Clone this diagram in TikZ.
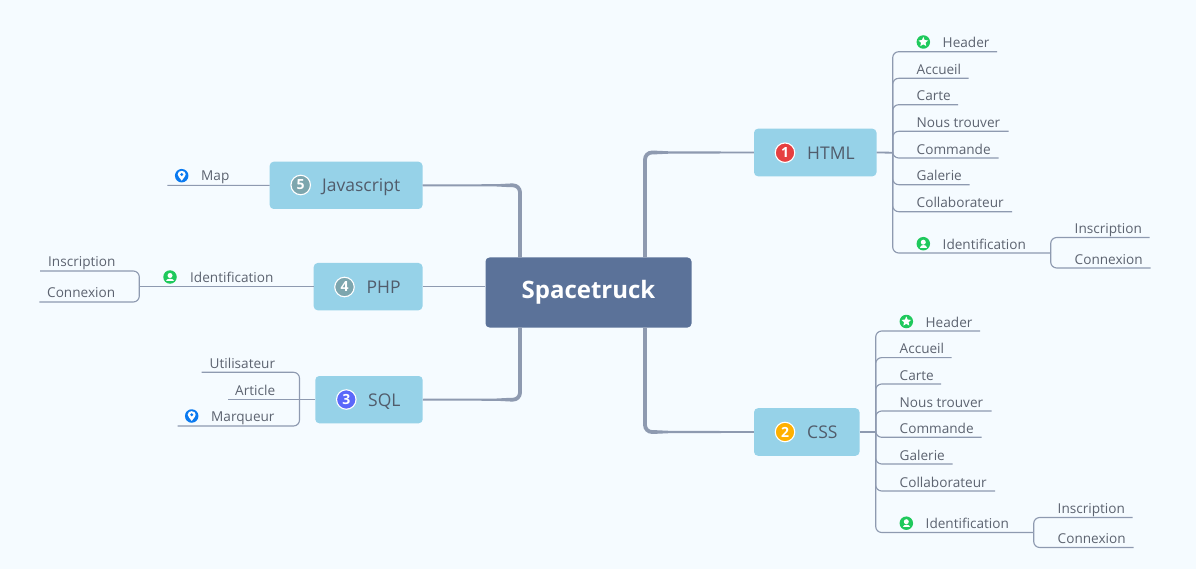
\documentclass[tikz,border=0pt]{standalone}
\usepackage{fontspec}
\setmainfont{Open Sans}
\usetikzlibrary{shapes.geometric,calc}
\definecolor{bgc}{HTML}{F5FBFF}
\definecolor{rootc}{HTML}{5B7299}
\definecolor{topc}{HTML}{96D2E8}
\definecolor{linec}{HTML}{8E9AB0}
\definecolor{txtc}{HTML}{5C6370}
\definecolor{topt}{HTML}{515C6B}
\definecolor{greenc}{HTML}{1FC95C}
\definecolor{bluec}{HTML}{0A7AF0}
\definecolor{redc}{HTML}{E63F40}
\definecolor{orangec}{HTML}{FFB000}
\definecolor{violetc}{HTML}{5B68FA}
\definecolor{tealc}{HTML}{7DA6AE}
\tikzset{
  rootbox/.style={fill=rootc,rounded corners=4pt,inner sep=0pt,anchor=center},
  topbox/.style={fill=topc,rounded corners=4pt,inner sep=0pt,anchor=center},
  toptext/.style={anchor=base west,inner sep=0pt,font=\fontsize{17.5}{20}\selectfont,text=topt},
  leaftext/.style={anchor=base west,inner sep=0pt,font=\fontsize{13.6}{16}\selectfont,text=txtc},
  trunk/.style={draw=linec,line width=3.8pt,rounded corners=7pt},
  twig/.style={draw=linec,line width=1.15pt,rounded corners=6pt},
  stem/.style={draw=linec,line width=1.8pt},
  numdot/.style={circle,draw=white,line width=1.1pt,minimum size=19.5pt,inner sep=0pt,text=white,font=\fontsize{14}{14}\selectfont\bfseries},
  icondot/.style={circle,minimum size=13.5pt,inner sep=0pt},
}
% box: name, x1, y1, x2, y2, style
\newcommand{\tbox}[6]{\node[#6,minimum width=#4pt-#2pt,minimum height=#5pt-#3pt] (#1) at ({(#2+#4)/2},{(#3+#5)/2}) {};}
% leaf: name, text x, line y, line end x, text, fork coordinate
\newcommand{\leaf}[6]{%
  \coordinate (#1e) at (#4,#3);
  \node[leaftext] (#1) at (#2,#3-3.9) {#5};
  \draw[twig] (#6) |- (#1e);}
% tapered branch: from knee coordinate to the side anchor of a box
\newcommand{\taper}[2]{%
  \fill[linec] ($(#1)+(0,-1.9)$) -- ($(#1)!0.16!(#2)+(0,-1.15)$) -- ($(#2)+(0,-0.9)$)
    -- ($(#2)+(0,0.9)$) -- ($(#1)!0.16!(#2)+(0,1.15)$) -- ($(#1)+(0,1.9)$) -- cycle;}
\newcommand{\staricon}[3]{%
  \node[icondot,fill=greenc] (#1) at (#2,#3) {};
  \node[star,star points=5,star point ratio=2.1,fill=white,minimum size=10pt,inner sep=0pt] (#1s) at (#2,#3) {};}
\newcommand{\personicon}[3]{%
  \node[icondot,fill=greenc] (#1) at (#2,#3) {};
  \node[circle,fill=white,minimum size=5pt,inner sep=0pt] (#1h) at (#2,#3-1.5) {};
  \fill[white] (#2-3.7,#3+4) .. controls (#2-3.7,#3+0.6) and (#2+3.7,#3+0.6) .. (#2+3.7,#3+4) -- cycle;}
\newcommand{\pinicon}[3]{%
  \node[icondot,fill=bluec] (#1) at (#2,#3) {};
  \fill[white] (#2,#3+5) .. controls (#2-2,#3+2) and (#2-4,#3+0.5) .. (#2-4,#3-1.3)
     .. controls (#2-4,#3-6) and (#2+4,#3-6) .. (#2+4,#3-1.3)
     .. controls (#2+4,#3+0.5) and (#2+2,#3+2) .. (#2,#3+5) -- cycle;
  \node[circle,fill=bluec,minimum size=3.2pt,inner sep=0pt] (#1h) at (#2,#3-1.2) {};}
\begin{document}
\begin{tikzpicture}[x=1pt,y=-1pt]
\useasboundingbox[fill=bgc] (0,0) rectangle (1196,569);

% boxes
\tbox{root}{485.5}{257.5}{691.5}{327.5}{rootbox}
\tbox{html}{754}{128.7}{876.5}{176.3}{topbox}
\tbox{css}{754}{408.2}{859.5}{455.8}{topbox}
\tbox{sql}{315.3}{376}{422.7}{423.3}{topbox}
\tbox{php}{313.7}{263}{422.5}{310.3}{topbox}
\tbox{js}{269.7}{161.7}{422.5}{209}{topbox}

% main connectors
\coordinate (rh) at (645,257.5);
\coordinate (rc) at (645,327.5);
\coordinate (rj) at (520,257.5);
\coordinate (rs) at (520,327.5);
\coordinate (hk) at (654,152.5);
\coordinate (ck) at (654,432);
\coordinate (jk) at (511,185.35);
\coordinate (sk) at (511,399.65);
\taper{hk}{html.west}
\taper{ck}{css.west}
\taper{jk}{js.east}
\taper{sk}{sql.east}
\draw[trunk] (rh) |- (hk);
\draw[trunk] (rc) |- (ck);
\draw[trunk] (rj) |- (jk);
\draw[trunk] (rs) |- (sk);
\draw[draw=linec,line width=1.4pt] (root.west |- php.east) -- (php.east);

% HTML
\coordinate (hf) at (892.7,152.7);
\draw[stem] (html.east) -- (hf);
\leaf{h1}{942.5}{51.7}{997}{Header}{hf}
\leaf{h2}{916.5}{78.3}{968.7}{Accueil}{hf}
\leaf{h3}{916.5}{104.7}{958}{Carte}{hf}
\leaf{h4}{916.5}{131.3}{1008.7}{Nous trouver}{hf}
\leaf{h5}{916.5}{158}{998.7}{Commande}{hf}
\leaf{h6}{916.5}{184.7}{969.7}{Galerie}{hf}
\leaf{h7}{916.5}{211.7}{1012}{Collaborateur}{hf}
\coordinate (hg) at (1050.7,253);
\leaf{h8}{942.5}{253}{1050.7}{Identification}{hf}
\leaf{h9}{1074.5}{237.5}{1149.7}{Inscription}{hg}
\leaf{h10}{1074.5}{268}{1150.7}{Connexion}{hg}
\staricon{hi1}{923.3}{42}
\personicon{hi8}{923.3}{243.7}

% CSS
\coordinate (cf) at (875.7,432);
\draw[stem] (css.east) -- (cf);
\leaf{c1}{925.5}{331}{980}{Header}{cf}
\leaf{c2}{899.5}{357.6}{951.7}{Accueil}{cf}
\leaf{c3}{899.5}{384}{941}{Carte}{cf}
\leaf{c4}{899.5}{411}{991.7}{Nous trouver}{cf}
\leaf{c5}{899.5}{437.3}{981.7}{Commande}{cf}
\leaf{c6}{899.5}{464}{952.7}{Galerie}{cf}
\leaf{c7}{899.5}{491}{995}{Collaborateur}{cf}
\coordinate (cg) at (1033.7,532.5);
\leaf{c8}{925.5}{532.5}{1033.7}{Identification}{cf}
\leaf{c9}{1057.5}{517.5}{1132.7}{Inscription}{cg}
\leaf{c10}{1057.5}{547.5}{1133.7}{Connexion}{cg}
\staricon{ci1}{906.3}{321.5}
\personicon{ci8}{906.3}{523.2}

% Javascript
\coordinate (j1e) at (167.3,185.35);
\node[leaftext] (j1) at (201,181) {Map};
\draw[twig] (js.west) -- (j1e);
\pinicon{ji1}{181.7}{175.7}

% PHP
\coordinate (pf) at (139.3,286.65);
\draw[twig] (php.west) -- (pf);
\node[leaftext] (p1) at (190,282.3) {Identification};
\coordinate (p2e) at (40,271);
\coordinate (p3e) at (39.3,302);
\node[leaftext] (p2) at (48,267) {Inscription};
\node[leaftext] (p3) at (47,297.8) {Connexion};
\draw[twig] (pf) |- (p2e);
\draw[twig] (pf) |- (p3e);
\personicon{pi1}{170}{277}

% SQL
\coordinate (sf) at (299.5,399.65);
\coordinate (s2e) at (227.5,399.65);
\draw[twig] (sql.west) -- (s2e);
\node[leaftext] (s2) at (235,395.5) {Article};
\leaf{s1}{209.5}{372.3}{201.7}{Utilisateur}{sf}
\coordinate (s3e) at (177.5,426);
\node[leaftext] (s3) at (211,421.3) {Marqueur};
\draw[twig] (sf) |- (s3e);
\pinicon{si3}{191.7}{416}

% topic labels
\node[anchor=center,inner sep=0pt,text=white,font=\fontsize{24}{28}\selectfont\bfseries] (rootl) at (588.5,292.5) {Spacetruck};
\node[numdot,fill=redc] (n1) at (785,152.7) {1};
\node[toptext] (t1) at (807,159.5) {HTML};
\node[numdot,fill=orangec] (n2) at (785,432) {2};
\node[toptext] (t2) at (807,438.8) {CSS};
\node[numdot,fill=violetc] (n3) at (346.3,399.5) {3};
\node[toptext] (t3) at (368,406.1) {SQL};
\node[numdot,fill=tealc] (n4) at (344.5,287) {4};
\node[toptext] (t4) at (366.5,293.3) {PHP};
\node[numdot,fill=tealc] (n5) at (300.7,185) {5};
\node[toptext] (t5) at (322,191.6) {Javascript};
\end{tikzpicture}
\end{document}
